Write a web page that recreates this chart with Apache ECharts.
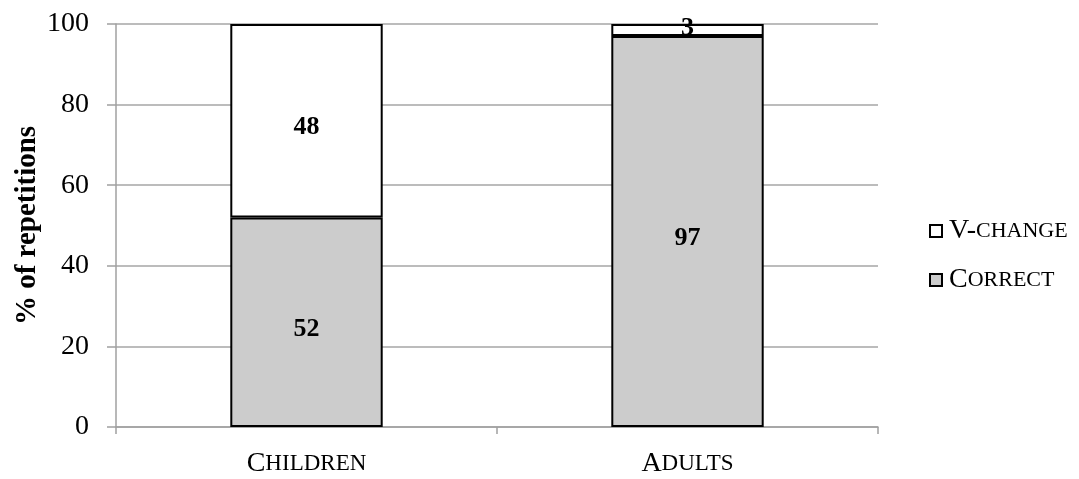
<!DOCTYPE html>
<html>
<head>
    <meta charset="utf-8">
    <title>repetitions</title>
    <script src="https://cdn.jsdelivr.net/npm/echarts@6/dist/echarts.min.js"></script>
    <style>
        html, body {margin:0;padding:0;background:#fff;}
        #chart {width:1079px;height:479px;}
    </style>
</head>
<body>
<div id="chart"></div>
<script>
    var groups = ['Children', 'Adults'];
    var correct = [52, 97];
    var vChange = [48, 3];
    var yTicks = [0, 20, 40, 60, 80, 100];

    // small caps by hand: first letter(s) big, rest upper case and smaller
    function smallCaps(s, cut) {
        cut = cut || 1;
        return '{big|' + s.slice(0, cut) + '}{small|' + s.slice(cut).toUpperCase() + '}';
    }

    var serif = '"Liberation Serif", "Times New Roman", serif';
    var valLabel = {show: true, position: 'inside', offset: [0, 7], fontFamily: serif, fontSize: 26, fontWeight: 'bold', color: '#000'};

    // thin segments keep their label near the top edge
    var vChangeItems = vChange.map(function (v) {
        return v < 10 ? {value: v, label: {offset: [0, -2]}} : v;
    });

    var chart = echarts.init(document.getElementById('chart'));
    var option = {
        backgroundColor: '#fff',
        animation: false,
        grid: {left: 116, right: 201, top: 24, bottom: 52},
        legend: {
            orient: 'vertical',
            left: 929,
            top: 217,
            padding: 0,
            itemWidth: 12,
            itemHeight: 12,
            itemGap: 21,
            icon: 'rect',
            data: ['V-change', 'Correct'],
            formatter: function (name) {
                return name === 'V-change' ? smallCaps(name, 2) : smallCaps(name);
            },
            textStyle: {
                fontFamily: serif,
                color: '#000',
                padding: [0, 0, 0, 2],
                rich: {
                    big: {fontFamily: serif, fontSize: 28, lineHeight: 30, color: '#000'},
                    small: {fontFamily: serif, fontSize: 22, lineHeight: 30, color: '#000'}
                }
            }
        },
        xAxis: {
            type: 'category',
            data: groups,
            axisLine: {lineStyle: {color: '#a0a0a0', width: 1.5}},
            axisTick: {show: true, length: 7, lineStyle: {color: '#a0a0a0', width: 1.5}},
            axisLabel: {
                margin: 22,
                formatter: function (v) { return smallCaps(v); },
                rich: {
                    big: {fontFamily: serif, fontSize: 28, lineHeight: 30, color: '#000'},
                    small: {fontFamily: serif, fontSize: 23, lineHeight: 30, color: '#000'}
                }
            }
        },
        yAxis: {
            type: 'value',
            min: yTicks[0],
            max: yTicks[yTicks.length - 1],
            interval: 20,
            name: '% of repetitions',
            nameLocation: 'middle',
            nameGap: 74,
            nameMoveOverlap: false,
            nameTextStyle: {fontFamily: serif, fontSize: 29, fontWeight: 'bold', color: '#000'},
            axisLine: {show: true, lineStyle: {color: '#a0a0a0', width: 1.5}},
            axisTick: {show: true, length: 9, lineStyle: {color: '#a0a0a0', width: 1.5}},
            axisLabel: {margin: 27, fontFamily: serif, fontSize: 28, color: '#000'},
            splitLine: {lineStyle: {color: '#a6a6a6', width: 1.5}}
        },
        series: [
            {
                name: 'Correct',
                type: 'bar',
                stack: 'all',
                barWidth: '40%',
                data: correct,
                itemStyle: {color: '#cccccc', borderColor: '#000', borderWidth: 2},
                label: valLabel
            },
            {
                name: 'V-change',
                type: 'bar',
                stack: 'all',
                barWidth: '40%',
                data: vChangeItems,
                itemStyle: {color: '#ffffff', borderColor: '#000', borderWidth: 2},
                label: valLabel
            }
        ]
    };
    chart.setOption(option);
</script>
</body>
</html>
